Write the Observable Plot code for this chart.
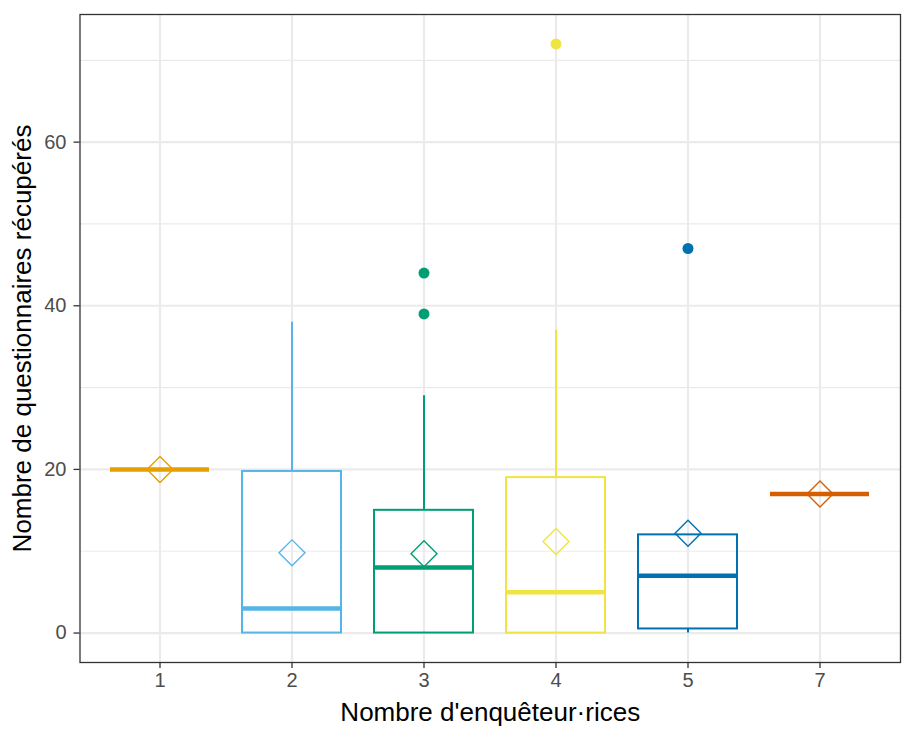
<!DOCTYPE html>
<html>
<head>
<meta charset="utf-8">
<script src="https://cdn.jsdelivr.net/npm/d3@7"></script>
<script src="https://cdn.jsdelivr.net/npm/@observablehq/plot@0.6"></script>
<style>
  html, body { margin: 0; padding: 0; background: white; }
</style>
</head>
<body>
<div id="chart"></div>
<script>
const categories = ["1", "2", "3", "4", "5", "7"];
const colors = ["#E69F00", "#56B4E9", "#009E73", "#F0E442", "#0072B2", "#D55E00"];
const lowerWhisker = [20, 0, 0, 0, 0, 17];
const q1 = [20, 0, 0, 0, 0.5, 17];
const median = [20, 3, 8, 5, 7, 17];
const q3 = [20, 19.75, 15, 19, 12, 17];
const upperWhisker = [20, 38, 29, 37, 12, 17];
const means = [20, 9.8, 9.7, 11.2, 12.2, 17];
const outlierCat = ["3", "3", "4", "5"];
const outlierVal = [44, 39, 72, 47];
const yMajor = [0, 20, 40, 60];
const yMinor = [10, 30, 50, 70];

const boxes = categories.map((c, i) => ({
  cat: c, lo: lowerWhisker[i], q1: q1[i], med: median[i], q3: q3[i], hi: upperWhisker[i], mean: means[i]
}));
const outliers = outlierCat.map((c, i) => ({cat: c, v: outlierVal[i]}));

const chart = Plot.plot({
  width: 914,
  height: 739,
  marginLeft: 79.5,
  marginRight: 14,
  marginTop: 14,
  marginBottom: 77,
  style: {fontFamily: "'Liberation Sans', Arial, sans-serif", background: "white"},
  x: {domain: categories, paddingInner: 0.25, paddingOuter: 0.225},
  y: {domain: [-3.6, 75.6]},
  color: {domain: categories, range: colors},
  marks: [
    Plot.gridY(yMinor, {stroke: "#EBEBEB", strokeOpacity: 1, strokeWidth: 1.2}),
    Plot.gridY(yMajor, {stroke: "#EBEBEB", strokeOpacity: 1, strokeWidth: 2.2}),
    Plot.gridX(categories, {stroke: "#EBEBEB", strokeOpacity: 1, strokeWidth: 2.2}),
    Plot.ruleX(boxes, {x: "cat", y1: "q3", y2: "hi", stroke: "cat", strokeWidth: 2}),
    Plot.ruleX(boxes, {x: "cat", y1: "q1", y2: "lo", stroke: "cat", strokeWidth: 2}),
    Plot.barY(boxes, {x: "cat", y1: "q1", y2: "q3", stroke: "cat", fill: "white", fillOpacity: 0, strokeWidth: 2}),
    Plot.tickY(boxes, {x: "cat", y: "med", stroke: "cat", strokeWidth: 4.5}),
    Plot.dot(outliers, {x: "cat", y: "v", fill: "cat", r: 5.5}),
    Plot.dot(boxes, {x: "cat", y: "mean", symbol: "diamond2", r: 11.7, stroke: "cat", fill: "none", strokeWidth: 1.4}),
    Plot.frame({stroke: "#333333", strokeWidth: 1.3}),
    Plot.axisY(yMajor, {tickSize: 6, tickFormat: () => "", stroke: "#333333", strokeWidth: 1.3,
      label: "Nombre de questionnaires récupérés", labelAnchor: "center", labelArrow: "none", labelOffset: 67}),
    Plot.axisX({tickSize: 6, tickFormat: () => "", stroke: "#333333", strokeWidth: 1.3,
      label: "Nombre d'enquêteur·rices", labelAnchor: "center", labelArrow: "none", labelOffset: 58}),
    Plot.text(yMajor, {y: d => d, text: d => String(d), frameAnchor: "left", textAnchor: "end", dx: -13.5,
      fontSize: 20, fill: "#4D4D4D"}),
    Plot.text(categories, {x: d => d, text: d => d, frameAnchor: "bottom", lineAnchor: "top", dy: 10,
      fontSize: 20, fill: "#4D4D4D"})
  ]
});

document.getElementById("chart").appendChild(chart);
chart.querySelectorAll("g[aria-label='x-axis label'], g[aria-label='y-axis label']").forEach(g => {
  g.setAttribute("font-size", "26");
  g.style.fontSize = "26px";
  g.setAttribute("fill", "#000");
  g.querySelectorAll("text").forEach(t => { t.setAttribute("fill", "#000"); });
});
</script>
</body>
</html>
